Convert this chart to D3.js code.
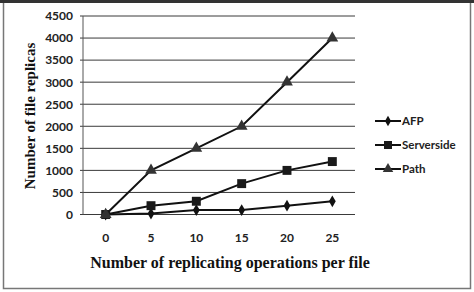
<!DOCTYPE html>
<html><head><meta charset="utf-8">
<script src="https://cdn.jsdelivr.net/npm/d3@7"></script>
<style>body{margin:0;background:#fff}</style>
</head><body>
<script>
const categories = ["0","5","10","15","20","25"];
const afp = [0, 20, 100, 100, 200, 300];
const serverside = [0, 200, 300, 700, 1000, 1200];
const pathVals = [0, 1000, 1500, 2000, 3000, 4000];
const yTicks = [0,500,1000,1500,2000,2500,3000,3500,4000,4500];
const seriesNames = ["AFP","Serverside","Path"];

const W = 474, H = 292;
const svg = d3.select("body").append("svg").attr("width", W).attr("height", H);

// outer frame
svg.append("rect").attr("x",3.5).attr("y",1.5).attr("width",467).attr("height",287)
  .attr("fill","#fff").attr("stroke","#777").attr("stroke-width",1.5);
svg.append("line").attr("x1",0).attr("x2",474).attr("y1",1.5).attr("y2",1.5)
  .attr("stroke","#333").attr("stroke-width",3);

const pLeft = 83, pRight = 355, pTop = 16, pBottom = 214.5;
const x = d3.scaleBand().domain(categories).range([pLeft, pRight]);
const y = d3.scaleLinear().domain([0, 4500]).range([pBottom, pTop]);

// gridlines
svg.append("g").selectAll("line").data(yTicks).join("line")
  .attr("x1", pLeft-3).attr("x2", pRight).attr("y1", d=>y(d)).attr("y2", d=>y(d))
  .attr("stroke","#3a3a3a").attr("stroke-width",1);
svg.append("line").attr("x1",pLeft).attr("x2",pLeft).attr("y1",pTop).attr("y2",pBottom)
  .attr("stroke","#555").attr("stroke-width",1);

// y labels
const yAxis = d3.axisLeft(y).tickValues(yTicks).tickFormat(d3.format("d")).tickSize(0).tickPadding(10);
const gy = svg.append("g").attr("transform",`translate(${pLeft},0)`).call(yAxis);
gy.select(".domain").remove();
gy.selectAll("text").attr("font-family","Lato, 'Open Sans', sans-serif").attr("font-size",12)
  .attr("font-weight","bold").attr("fill","#222");

// x labels
const xAxis = d3.axisBottom(x).tickSize(0).tickPadding(19);
const gx = svg.append("g").attr("transform",`translate(0,${pBottom})`).call(xAxis);
gx.select(".domain").remove();
gx.selectAll("text").attr("font-family","Lato, 'Open Sans', sans-serif").attr("font-size",12)
  .attr("font-weight","bold").attr("fill","#222");

// titles
svg.append("text").attr("x",230).attr("y",268).attr("text-anchor","middle")
  .attr("font-family","'Liberation Serif', 'DejaVu Serif', serif").attr("font-weight","bold")
  .attr("font-size",16).attr("fill","#111").text("Number of replicating operations per file");
svg.append("text").attr("transform","translate(35,116) rotate(-90)").attr("text-anchor","middle")
  .attr("font-family","'Liberation Serif', 'DejaVu Serif', serif").attr("font-weight","bold")
  .attr("font-size",15).attr("fill","#111").text("Number of file replicas");

const cx = c => x(c) + x.bandwidth()/2;
const line = d3.line().x((d,i)=>cx(categories[i])).y(d=>y(d));

const series = [
  {name:seriesNames[0], vals:afp, sym:d3.symbolDiamond, size:40, color:"#111"},
  {name:seriesNames[1], vals:serverside, sym:d3.symbolSquare, size:80, color:"#1a1a1a"},
  {name:seriesNames[2], vals:pathVals, sym:d3.symbolTriangle, size:60, color:"#333"}
];

series.forEach(s=>{
  svg.append("path").datum(s.vals).attr("d",line).attr("fill","none")
    .attr("stroke","#111").attr("stroke-width",2);
});
series.forEach(s=>{
  svg.append("g").selectAll("path").data(s.vals).join("path")
    .attr("transform",(d,i)=>`translate(${cx(categories[i])},${y(d)})`)
    .attr("d", d3.symbol().type(s.sym).size(s.size)).attr("fill",s.color);
});

// legend
const legY = [121,145,169];
series.forEach((s,i)=>{
  const g = svg.append("g").attr("transform",`translate(375,${legY[i]})`);
  g.append("line").attr("x1",0).attr("x2",26).attr("y1",0).attr("y2",0)
    .attr("stroke","#111").attr("stroke-width",2);
  g.append("path").attr("transform","translate(13,0)")
    .attr("d", d3.symbol().type(s.sym).size(s.size*0.8)).attr("fill",s.color);
  g.append("text").attr("x",27).attr("y",4).attr("font-family","Lato, 'Open Sans', sans-serif")
    .attr("font-size",11.5).attr("font-weight","bold").attr("fill","#222").text(s.name);
});
</script>
</body></html>
